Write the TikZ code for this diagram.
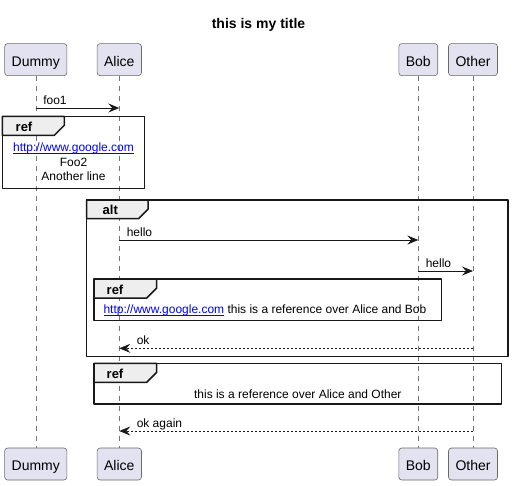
\documentclass[tikz,border=0pt]{standalone}
\usepackage{fontspec}
\setmainfont{Liberation Sans}
\usetikzlibrary{arrows.meta}
\definecolor{partfill}{HTML}{E2E2F0}
\definecolor{tabfill}{HTML}{EEEEEE}
\definecolor{ink}{HTML}{181818}
\newcommand\weblink[1]{\textcolor{blue}{\setbox0\hbox{#1}\rlap{\rule[-2pt]{\wd0}{0.6pt}}\box0}}
\begin{document}
\begin{tikzpicture}[x=1pt, y=-1pt, line join=round, >={Stealth[length=11pt,width=9pt,inset=4pt]},
font=\fontsize{12}{14.5}\selectfont,
part/.style={draw=ink!65, fill=partfill, rounded corners=3pt, line width=0.6pt,
  minimum height=32pt, inner xsep=7pt, text height=13.4pt, text depth=0pt,
  font=\fontsize{14}{16}\selectfont},
life/.style={draw=ink!60, line width=0.6pt, dash pattern=on 5pt off 5pt},
msg/.style={->, draw=ink, line width=0.9pt},
ret/.style={msg, dash pattern=on 2pt off 2pt},
lbl/.style={inner sep=0pt, anchor=base west, yshift=4pt},
frame/.style={draw=ink, line width=1.5pt},
tab/.style={frame, fill=tabfill},
tablbl/.style={inner sep=0pt, anchor=base west, font=\fontsize{13}{15}\bfseries\selectfont}]
\useasboundingbox (0,0) rectangle (513,485);
\node[font=\fontsize{14}{16}\bfseries\selectfont] (title) at (258.5,25) {this is my title};
% participants and lifelines
\foreach \n/\x/\t in {d/35.8/Dummy, a/119.3/Alice, b/418.3/Bob, o/473/Other}{
  \node[part] (\n-top) at (\x,59.6) {\t};
  \node[part] (\n-bot) at (\x,464) {\t};
  \draw[life] (\n-top.south) -- (\n-bot.north);
}
\coordinate (r1) at (0,108);
\coordinate (r2) at (0,240);
\coordinate (r3) at (0,271);
\coordinate (r4) at (0,348.3);
\coordinate (r5) at (0,431);
\draw[msg] (d-top |- r1) -- node[lbl, pos=0, xshift=7pt] (m1) {foo1} (a-top |- r1);
% ref over Dummy and Alice
\draw[frame] (2.3,116.3) rectangle (144.7,188.3);
\draw[tab] (2.3,116.3) -- ++(62,0) -- ++(0,9) -- ++(-10,10) -- ++(-52,0) -- cycle;
\node[tablbl] (ref1) at (15.5,131) {ref};
\node[align=center, inner sep=0pt, anchor=base] (ref1txt) at (73.5,180.5)
  {\weblink{http://www.google.com}\\Foo2\\Another line};
% alt
\draw[frame] (86.7,200) rectangle (508,356.3);
\draw[tab] (86.7,200) -- ++(61.5,0) -- ++(0,9) -- ++(-9.5,9.5) -- ++(-52,0) -- cycle;
\node[tablbl] (alt) at (102.5,214.5) {alt};
\draw[msg] (a-top |- r2) -- node[lbl, pos=0, xshift=7pt] (m2) {hello} (b-top |- r2);
\draw[msg] (b-top |- r3) -- node[lbl, pos=0, xshift=7pt] (m3) {hello} (o-top |- r3);
% ref over Alice and Bob
\draw[frame] (94,279) rectangle (441.7,320.7);
\draw[tab] (94,279) -- ++(62.7,0) -- ++(0,9) -- ++(-10,10) -- ++(-52.7,0) -- cycle;
\node[tablbl] (ref2) at (106.5,294) {ref};
\node[inner sep=0pt, anchor=base west] (ref2txt) at (103.3,313.5)
  {\weblink{http://www.google.com} this is a reference over Alice and Bob};
\draw[ret] (o-top |- r4) -- node[lbl, pos=1, xshift=17pt] (m4) {ok} (a-top |- r4);
% ref over Alice and Other
\draw[frame] (94,363.3) rectangle (501.7,404);
\draw[tab] (94,363.3) -- ++(62.7,0) -- ++(0,9) -- ++(-10,10) -- ++(-52.7,0) -- cycle;
\node[tablbl] (ref3) at (106.5,378.3) {ref};
\node[inner sep=0pt, anchor=base] (ref3txt) at (297.8,398.3)
  {this is a reference over Alice and Other};
\draw[ret] (o-top |- r5) -- node[lbl, pos=1, xshift=17pt] (m5) {ok again} (a-top |- r5);
\end{tikzpicture}
\end{document}
